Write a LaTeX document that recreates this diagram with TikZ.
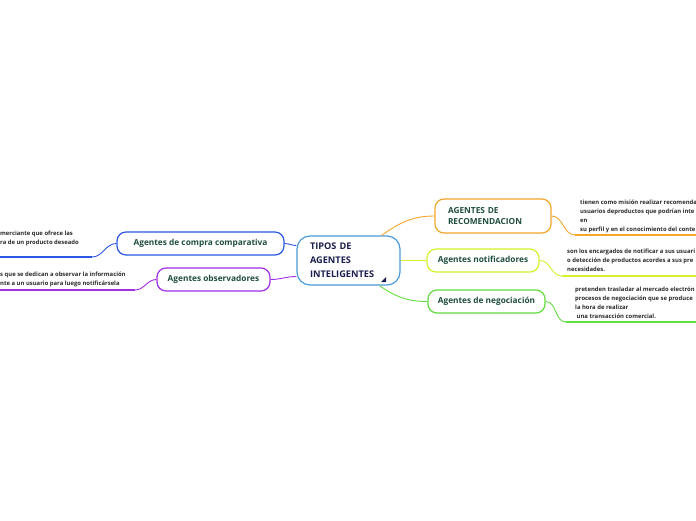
\documentclass[tikz,border=0pt]{standalone}
\usepackage{fontspec}
\setmainfont{Open Sans}
\definecolor{corange}{HTML}{F5A52A}
\definecolor{cyellow}{HTML}{D6F02C}
\definecolor{cgreen}{HTML}{62DD3E}
\definecolor{cblue}{HTML}{2C58E6}
\definecolor{cpurple}{HTML}{A22EE6}
\definecolor{ccenter}{HTML}{4B9BD8}
\definecolor{ctext}{HTML}{1F4E3D}
\definecolor{cnavy}{HTML}{1B1F4E}
\definecolor{cleaf}{HTML}{2B2B2B}
\tikzset{
  x=1pt, y=-1pt,
  topic/.style={draw, rounded corners=9pt, line width=1.2pt, fill=white, text=ctext,
    font=\fontsize{8.3}{10.5}\selectfont\bfseries, inner sep=0pt, align=left},
  leaf/.style={anchor=base west, inner sep=0pt, text=cleaf, align=left,
    font=\fontsize{5.9}{8.8}\selectfont\bfseries},
  conn/.style={line width=0.9pt},
  uline/.style={line width=2pt}
}
\begin{document}
\begin{tikzpicture}
\useasboundingbox (0,0) rectangle (696,520);
\clip (0,0) rectangle (696,520);
\fill[white] (0,0) rectangle (696,520);

% central node
\node[draw=ccenter, line width=1.2pt, rounded corners=13pt, minimum width=103pt, minimum height=49pt,
  text width=77pt, align=left, inner sep=0pt, text=cnavy,
  font=\fontsize{9.2}{14}\selectfont\bfseries] (c) at (348.5,260.5) {TIPOS DE\\AGENTES\\INTELIGENTES};
\fill[cnavy] (386,277) -- (386,282) -- (381,282) -- cycle;

% topics
\node[topic, draw=corange, minimum width=116pt, minimum height=34pt, text width=90pt] (rec) at (493,216) {AGENTES DE\\RECOMENDACION};
\node[topic, draw=cyellow, minimum width=112pt, minimum height=23pt] (not) at (483,260.5) {Agentes notificadores};
\node[topic, draw=cgreen, minimum width=117pt, minimum height=23pt] (neg) at (486.5,301.5) {Agentes de negociación};
\node[topic, draw=cblue, minimum width=167pt, minimum height=23pt] (com) at (200.5,243.5) {Agentes de compra comparativa};
\node[topic, draw=cpurple, minimum width=113pt, minimum height=23pt] (obs) at (213.5,279.5) {Agentes observadores};

% center connectors
\draw[conn, cblue] ([yshift=15pt]c.west) to[out=180,in=0] (com.east);
\draw[conn, cpurple] ([yshift=-16pt]c.west) to[out=180,in=0] (obs.east);
\draw[conn, corange] ([xshift=33pt]c.north) to[out=35,in=180] (rec.west);
\draw[conn, cyellow] (c.east) to[out=0,in=180] (not.west);
\draw[conn, cgreen] ([xshift=31pt]c.south) to[out=-35,in=180] (neg.west);

% leaf underline coordinates
\coordinate (recA) at (575,235); \coordinate (recB) at (700,235);
\coordinate (notA) at (562,276); \coordinate (notB) at (700,276);
\coordinate (negA) at (566,322); \coordinate (negB) at (700,322);
\coordinate (comA) at (92,257);  \coordinate (comB) at (-4,257);
\coordinate (obsA) at (135,290); \coordinate (obsB) at (-4,290);

\draw[conn, corange] (rec.east) to[out=0,in=180] (recA);
\draw[uline, corange] (recA) -- (recB);
\draw[conn, cyellow] (not.east) to[out=0,in=180] (notA);
\draw[uline, cyellow] (notA) -- (notB);
\draw[conn, cgreen] (neg.east) to[out=0,in=180] (negA);
\draw[uline, cgreen] (negA) -- (negB);
\draw[conn, cblue] (com.west) to[out=180,in=0] (comA);
\draw[uline, cblue] (comA) -- (comB);
\draw[conn, cpurple] (obs.west) to[out=180,in=0] (obsA);
\draw[uline, cpurple] (obsA) -- (obsB);

% leaf texts (anchored at the baseline of the last line)
\node[leaf] (recT) at (580,231) {tienen como misión realizar recomenda\\usuarios deproductos que podrían inte\\en\\su perfil y en el conocimiento del conte};
\node[leaf] (notT) at (567,271) {son los encargados de notificar a sus usuari\\o detección de productos acordes a sus pre\\necesidades.};
\node[leaf] (negT) at (575,318) {pretenden trasladar al mercado electrón\\procesos de negociación que se produce\\la hora de realizar\\\ una transacción comercial.};
\node[leaf] (comT) at (0,244.5) {merciante que ofrece las\\ra de un producto deseado};
\node[leaf] (obsT) at (0,285) {s que se dedican a observar la información\\nte a un usuario para luego notificársela};
\end{tikzpicture}
\end{document}
